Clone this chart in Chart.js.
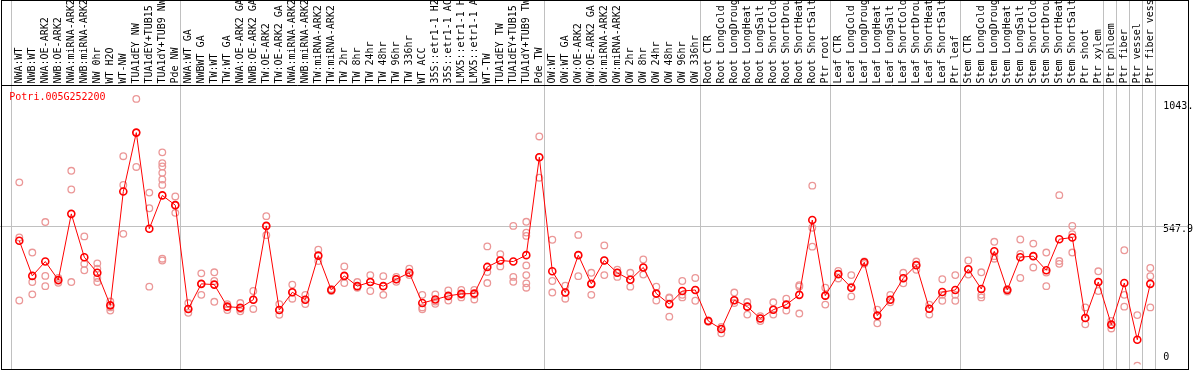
<!DOCTYPE html>
<html>
<head>
<meta charset="utf-8">
<script src="https://cdn.jsdelivr.net/npm/chart.js@4/dist/chart.umd.min.js"></script>
<style>
  html, body { margin: 0; padding: 0; background: #fff; }
  #wrap { width: 1194px; height: 370px; }
</style>
</head>
<body>
<div id="wrap"><canvas id="chart" width="1194" height="370"></canvas></div>
<script>
const geneId = 'Potri.005G252200';

const samples = [
  'NWA:WT', 'NWB:WT', 'NWA:OE-ARK2', 'NWB:OE-ARK2', 'NWA:miRNA-ARK2', 'NWB:miRNA-ARK2',
  'NW 0hr', 'WT H2O', 'WT-NW', 'TUA1dEY NW', 'TUA1dEY+TUB15 NW', 'TUA1dY+TUB9 NW', 'Pde NW',
  'NWA:WT GA', 'NWBWT GA', 'TW:WT', 'TW:WT GA', 'NWA:OE-ARK2 GA', 'NWB:OE-ARK2 GA',
  'TW:OE-ARK2', 'TW:OE-ARK2 GA', 'NWA:miRNA-ARK2', 'NWB:miRNA-ARK2', 'TW:miRNA-ARK2', 'TW:miRNA-ARK2',
  'TW 2hr', 'TW 8hr', 'TW 24hr', 'TW 48hr', 'TW 96hr', 'TW 336hr', 'WT ACC',
  '35S::etr1-1 H2O', '35S::etr1-1 ACC', 'LMX5::etr1-1 H2O', 'LMX5::etr1-1 ACC',
  'WT-TW', 'TUA1dEY TW', 'TUA1dEY+TUB15 TW', 'TUA1dY+TUB9 TW', 'Pde TW',
  'OW:WT', 'OW:WT GA', 'OW:OE-ARK2', 'OW:OE-ARK2 GA', 'OW:miRNA-ARK2', 'OW:miRNA-ARK2',
  'OW 2hr', 'OW 8hr', 'OW 24hr', 'OW 48hr', 'OW 96hr', 'OW 336hr',
  'Root CTR', 'Root LongCold', 'Root LongDrought', 'Root LongHeat', 'Root LongSalt',
  'Root ShortCold', 'Root ShortDrought', 'Root ShortHeat', 'Root ShortSalt', 'Ptr root',
  'Leaf CTR', 'Leaf LongCold', 'Leaf LongDrought', 'Leaf LongHeat', 'Leaf LongSalt',
  'Leaf ShortCold', 'Leaf ShortDrought', 'Leaf ShortHeat', 'Leaf ShortSalt', 'Ptr leaf',
  'Stem CTR', 'Stem LongCold', 'Stem LongDrought', 'Stem LongHeat', 'Stem LongSalt',
  'Stem ShortCold', 'Stem ShortDrought', 'Stem ShortHeat', 'Stem ShortSalt',
  'Ptr shoot', 'Ptr xylem', 'Ptr phloem', 'Ptr fiber', 'Ptr vessel', 'Ptr fiber vessel'
];

// mean per sample (red line)
const means = [
  490, 353, 409, 337, 595, 426, 365, 238, 682, 912, 537, 667, 629,
  224, 322, 319, 233, 229, 260, 548, 220, 289, 260, 432, 298, 353, 313, 329, 313, 340,
  365, 247, 261, 275, 283, 284, 388, 413, 409, 434, 816,
  371, 288, 434, 322, 413, 365, 338, 386, 284, 243, 294, 298,
  177, 146, 258, 233, 187, 221, 241, 279, 571, 276,
  360, 307, 406, 198, 260, 344, 395, 225, 290, 298,
  379, 302, 449, 298, 426, 430, 375, 496, 503, 189, 329,
  163, 325, 104, 322
];

// individual replicates per sample (pink circles)
const replicates = [
  [718, 503, 257], [444, 329, 281], [563, 353, 313], [345, 334, 326], [763, 690, 329],
  [507, 400, 375], [402, 381, 345, 329], [253, 230, 218], [820, 708, 517], [1043.6, 912, 778],
  [678, 617, 311], [835, 793, 780, 755, 729, 708, 420, 413], [663, 629, 599],
  [247, 224, 209], [363, 322, 279], [367, 333, 252], [243, 230, 220], [247, 224, 215],
  [294, 260, 224], [586, 548, 512], [243, 220, 201], [319, 289, 264], [279, 260, 243],
  [455, 432, 411], [302, 298, 294], [390, 353, 325], [329, 313, 307], [356, 329, 294],
  [352, 313, 279], [349, 340, 330], [381, 365, 356], [279, 230, 223], [281, 253, 244],
  [296, 273, 257], [298, 279, 269], [298, 279, 261], [468, 368, 325], [438, 413, 390],
  [548, 349, 330], [564, 522, 509, 394, 356, 324, 307], [897, 816, 736],
  [494, 333, 288], [315, 288, 264], [513, 434, 352], [365, 322, 279], [472, 413, 356],
  [377, 365, 349], [365, 338, 311], [417, 386, 358], [311, 284, 257], [269, 266, 194],
  [333, 279, 269], [345, 298, 256],
  [179, 177, 174], [154, 146, 129], [288, 258, 247], [251, 233, 202], [196, 187, 177],
  [250, 221, 202], [264, 241, 218], [317, 312, 206], [705, 541, 467], [307, 276, 241],
  [372, 360, 343], [356, 311, 273], [409, 406, 400], [221, 198, 168], [279, 260, 250],
  [365, 344, 324], [409, 395, 377], [241, 225, 202], [340, 279, 256], [356, 279, 256],
  [413, 379, 358], [367, 279, 269], [486, 430, 420], [302, 298, 292], [495, 439, 345],
  [479, 430, 386], [444, 366, 313], [668, 411, 400], [548, 516, 444], [230, 189, 164],
  [371, 329, 294],
  [177, 163, 148], [453, 279, 233], [200, 3], [384, 352, 230]
];

const groupEdges = [0, 13, 41, 53, 63, 73, 84, 85, 86, 87, 88];
const yTicks = [0, 547.9, 1043.6];
const yTickLabels = ['0', '547.9', '1043.'];

const repPoints = [];
replicates.forEach((vals, i) => vals.forEach(v => repPoints.push({ x: i, y: v })));
const meanPoints = means.map((v, i) => ({ x: i, y: v }));

const mono = { family: 'DejaVu Sans Mono', size: 10 };
const X_MIN = -0.6615, X_MAX = 87.385, Y_MIN = 7.7, Y_MAX = 1095.8;

function noPad(s) {
  s.paddingTop = 0; s.paddingBottom = 0; s.paddingLeft = 0; s.paddingRight = 0;
}

// one tick per axis so each label can sit where the original puts it
function tickAxis(value, opts) {
  return {
    type: 'linear', position: 'right', min: Y_MIN, max: Y_MAX, weight: opts.weight,
    afterBuildTicks: s => { s.ticks = [{ value }]; },
    afterFit: s => { s.width = opts.width; noPad(s); },
    grid: { display: false, drawTicks: false },
    border: { display: false },
    ticks: {
      mirror: opts.mirror, padding: opts.padding, labelOffset: opts.offset,
      color: '#000', font: mono,
      callback: v => yTickLabels[yTicks.indexOf(v)]
    }
  };
}

const frame = {
  id: 'frame',
  beforeDatasetsDraw(chart) {
    const { ctx, scales: { x, y } } = chart;
    ctx.save();
    ctx.strokeStyle = '#c0c0c0';
    ctx.lineWidth = 1;
    groupEdges.forEach(k => {
      const px = Math.round(x.getPixelForValue(k - 0.6615)) + 0.5;
      ctx.beginPath(); ctx.moveTo(px, 0); ctx.lineTo(px, 369); ctx.stroke();
    });
    const py = Math.round(y.getPixelForValue(yTicks[1])) + 0.5;
    ctx.beginPath(); ctx.moveTo(0, py); ctx.lineTo(1188, py); ctx.stroke();
    ctx.restore();
  },
  afterDraw(chart) {
    const { ctx } = chart;
    ctx.save();
    ctx.strokeStyle = '#000';
    ctx.lineWidth = 1;
    ctx.strokeRect(1.5, 0.5, 1187, 369);
    ctx.beginPath(); ctx.moveTo(1, 85.5); ctx.lineTo(1188, 85.5); ctx.stroke();
    ctx.fillStyle = '#ff0000';
    ctx.font = '10px "DejaVu Sans Mono"';
    ctx.textBaseline = 'middle';
    ctx.fillText(geneId, 9.3, 97.5);
    ctx.restore();
  }
};

new Chart(document.getElementById('chart'), {
  type: 'line',
  data: {
    datasets: [
      {
        label: 'mean',
        data: meanPoints,
        borderColor: '#ff0000',
        borderWidth: 1,
        pointRadius: 3.5,
        pointBorderWidth: 1.6,
        pointBorderColor: '#ff0000',
        pointBackgroundColor: 'rgba(0,0,0,0)',
        tension: 0
      },
      {
        label: 'replicates',
        data: repPoints,
        showLine: false,
        pointRadius: 3.3,
        pointBorderWidth: 1.3,
        pointBorderColor: '#eb9797',
        pointBackgroundColor: 'rgba(0,0,0,0)'
      }
    ]
  },
  options: {
    responsive: false,
    animation: false,
    devicePixelRatio: 1,
    layout: { padding: { left: 10.7, right: 0, top: 0, bottom: 1 } },
    plugins: { legend: { display: false }, tooltip: { enabled: false } },
    scales: {
      x: {
        type: 'linear', position: 'top', min: X_MIN, max: X_MAX,
        afterBuildTicks: s => { s.ticks = samples.map((_, i) => ({ value: i })); },
        afterFit: s => { s.height = 85.5; noPad(s); },
        grid: { display: false, drawTicks: false },
        border: { display: false },
        ticks: {
          autoSkip: false, minRotation: 90, maxRotation: 90, padding: 2, labelOffset: 12,
          color: '#000', font: mono,
          callback: v => samples[v]
        }
      },
      y: tickAxis(yTicks[1], { weight: 1, width: 38.7, mirror: false, padding: 7.7, offset: 3.4 }),
      y0: tickAxis(yTicks[0], { weight: 0, width: 0, mirror: true, padding: 14, offset: -9.3 }),
      yTop: tickAxis(yTicks[2], { weight: 0, width: 0, mirror: true, padding: 38.1, offset: 7.9 })
    }
  },
  plugins: [frame]
});
</script>
</body>
</html>
